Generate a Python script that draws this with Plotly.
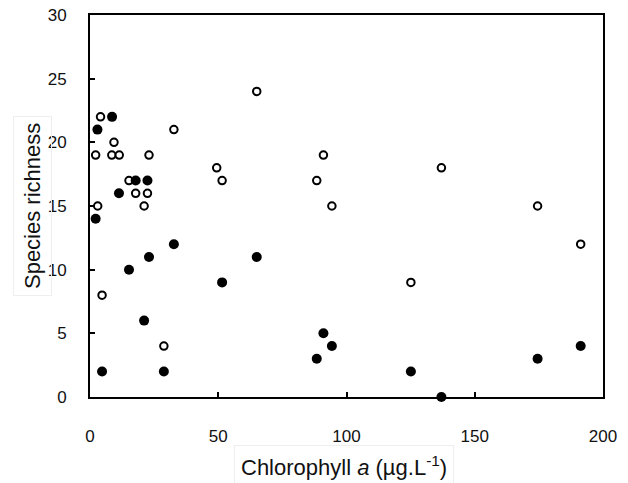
import plotly.graph_objects as go

# Open circles series
open_x = [65.0, 4.1, 32.7, 9.35, 2.2, 8.5, 11.4, 23.0, 91.0, 49.4, 15.2, 51.5, 88.4,
          17.8, 22.4, 3.0, 21.1, 94.3, 4.7, 28.8, 137.0, 174.5, 191.3, 125.1]
open_y = [24, 22, 21, 20, 19, 19, 19, 19, 19, 18, 17, 17, 17,
          16, 16, 15, 15, 15, 8, 4, 18, 15, 12, 9]

# Filled circles series
fill_x = [8.6, 2.9, 17.8, 22.4, 11.3, 2.2, 32.7, 23.0, 65.0, 15.2, 51.5, 21.1,
          91.0, 94.3, 88.4, 4.7, 28.8, 191.3, 174.5, 125.1, 137.0]
fill_y = [22, 21, 17, 17, 16, 14, 12, 11, 11, 10, 9, 6,
          5, 4, 3, 2, 2, 4, 3, 2, 0]

x_tickvals = [0, 50, 100, 150, 200]
x_ticktext = ["0", "50", "100", "150", "200"]
y_tickvals = [0, 5, 10, 15, 20, 25, 30]
y_ticktext = ["0", "5", "10", "15", "20", "25", "30"]

x_title = "Chlorophyll <i>a</i> (µg.L<sup>-1</sup>)"
y_title = "Species richness"

FONT = "Liberation Sans, Arial, sans-serif"

fig = go.Figure()
fig.add_trace(go.Scatter(
    x=open_x, y=open_y, mode="markers", cliponaxis=False,
    marker=dict(symbol="circle", size=7.5, color="white",
                line=dict(color="black", width=2)),
    showlegend=False))
fig.add_trace(go.Scatter(
    x=fill_x, y=fill_y, mode="markers", cliponaxis=False,
    marker=dict(symbol="circle", size=10, color="black",
                line=dict(color="black", width=0)),
    showlegend=False))

axis_common = dict(showline=True, linecolor="black", linewidth=2, mirror=True,
                   showgrid=False, zeroline=False, ticks="inside", automargin=False,
                   ticklen=5, tickwidth=1.5, tickcolor="black",
                   ticklabeloverflow="allow")

fig.update_xaxes(range=[0, 200], tickmode="array", tickvals=x_tickvals,
                 ticktext=x_ticktext, tickfont=dict(family=FONT, size=17, color="#111"),
                 ticklabelstandoff=23, **axis_common)
fig.update_yaxes(range=[0, 30], tickmode="array", tickvals=y_tickvals,
                 ticktext=y_ticktext, tickfont=dict(family=FONT, size=17, color="#111"),
                 ticklabelstandoff=18, **axis_common)

fig.add_annotation(text=x_title, xref="paper", yref="paper", x=0.495, y=-0.18,
                   xanchor="center", yanchor="middle", showarrow=False,
                   font=dict(family=FONT, size=22, color="#111"),
                   bordercolor="#eeeeee", borderwidth=1, borderpad=6)
fig.add_annotation(text=y_title, xref="paper", yref="paper", x=-0.113, y=0.5,
                   xanchor="center", yanchor="middle", showarrow=False, textangle=-90,
                   font=dict(family=FONT, size=22, color="#111"),
                   bordercolor="#eeeeee", borderwidth=1, borderpad=6)

# page body adds an 8px offset; margins compensate so the plot area lands at
# x 90..603, y 15..397 in the window
fig.update_layout(width=628, height=483, paper_bgcolor="white", plot_bgcolor="white",
                  margin=dict(l=82, r=33, t=7, b=94), font=dict(family=FONT))

fig.write_html("out.html")
